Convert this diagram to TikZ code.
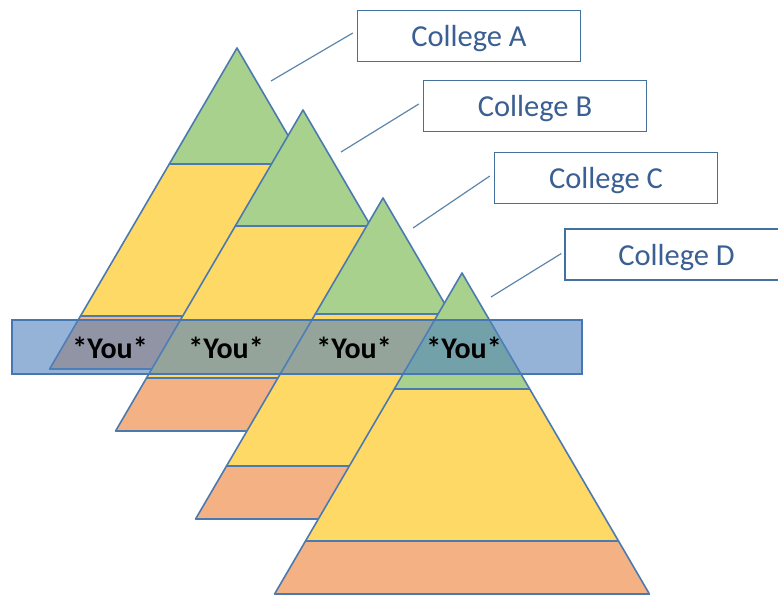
\documentclass[tikz,border=0pt]{standalone}
\usepackage{fontspec}
\setmainfont{Carlito}
\definecolor{pgreen}{HTML}{A9D18E}
\definecolor{pyellow}{HTML}{FFD966}
\definecolor{porange}{HTML}{F4B183}
\definecolor{pedge}{HTML}{4A7AAF}
\definecolor{bandfill}{HTML}{4F81BD}
\definecolor{bandedge}{HTML}{4677B2}
\definecolor{boxedge}{HTML}{41719C}
\definecolor{boxtext}{HTML}{3A5F92}
\newcommand{\lowtxt}[1]{\raisebox{-3pt}[\height][\depth]{#1}}
\tikzset{
  layer/.style={draw=pedge, line width=1.6pt, line join=round},
  pyr/.pic={
    \path[layer, fill=porange] (-156.5,268) -- (156.5,268) -- (187.4,321) -- (-187.4,321) -- cycle;
    \path[layer, fill=pyellow] (-67.7,116) -- (67.7,116) -- (156.5,268) -- (-156.5,268) -- cycle;
    \path[layer, fill=pgreen] (0,0) -- (-67.7,116) -- (67.7,116) -- cycle;
  },
  collegebox/.style={draw=boxedge, line width=1.4pt, fill=white, minimum width=223pt, minimum height=51pt, inner sep=0pt, text=boxtext, font=\fontsize{30.5}{33}\selectfont},
  leader/.style={draw=boxedge!85, line width=1.2pt},
  youtext/.style={font=\bfseries\fontsize{30}{33}\selectfont, text=black, inner sep=0pt},
  band/.style={draw=bandedge, line width=1.5pt, fill=bandfill, fill opacity=0.6}
}
\begin{document}
\begin{tikzpicture}[x=1pt, y=-1pt]
\clip (0,0) rectangle (778,595);
\fill[white] (0,0) rectangle (778,595);
% pyramids, back to front
\pic at (237,48) {pyr};
\pic at (303,110) {pyr};
\pic at (383,198) {pyr};
\pic at (462,273) {pyr};
% translucent band
\path[band] (12,320) rectangle (582,374);
% You labels
\node[youtext] (youA) at (110,348) {*You*};
\node[youtext] (youB) at (226,348) {*You*};
\node[youtext] (youC) at (354,348) {*You*};
\node[youtext] (youD) at (464,348) {*You*};
% college boxes
\node[collegebox] (cA) at (469,36) {\lowtxt{College A}};
\node[collegebox] (cB) at (535,106) {\lowtxt{College B}};
\node[collegebox] (cC) at (606,178) {\lowtxt{College C}};
\node[collegebox] (cD) at (676.5,254.5) {\lowtxt{College D}};
% leader lines
\coordinate (lA) at (271,81);
\coordinate (lB) at (341,152);
\coordinate (lC) at (413,228);
\coordinate (lD) at (491,297);
\draw[leader] (lA) -- ([xshift=-4pt,yshift=3pt]cA.west);
\draw[leader] (lB) -- ([xshift=-4pt,yshift=2pt]cB.west);
\draw[leader] (lC) -- ([xshift=-4pt,yshift=2pt]cC.west);
\draw[leader] (lD) -- ([xshift=-3pt,yshift=1pt]cD.west);
\end{tikzpicture}
\end{document}
